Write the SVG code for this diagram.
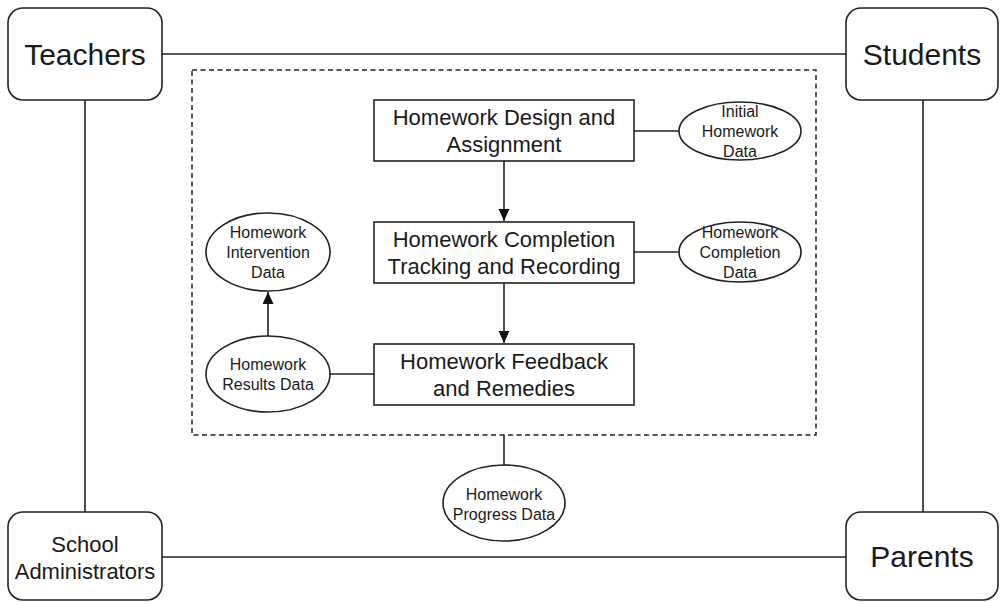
<svg xmlns="http://www.w3.org/2000/svg" width="1003" height="602" viewBox="0 0 1003 602">
<style>
.ent{fill:#fff;stroke:#222;stroke-width:1.6}
.proc{fill:#fff;stroke:#222;stroke-width:1.6}
.data{fill:#fff;stroke:#222;stroke-width:1.6}
.ln{fill:none;stroke:#222;stroke-width:1.6}
.dash{fill:none;stroke:#222;stroke-width:1.5;stroke-dasharray:5 3.5}
text{font-family:"Liberation Sans",Arial,sans-serif;fill:#1a1a1a;text-anchor:middle}
.big{font-size:30px}
.mid{font-size:22px}
.sm{font-size:16px}
</style>
<defs>
<marker id="arr" markerWidth="14" markerHeight="14" refX="12" refY="5.5" orient="auto" markerUnits="userSpaceOnUse">
<path d="M0,0 L12,5.5 L0,11 Z" fill="#111"/>
</marker>
</defs>
<g id="connectors">
<line class="ln" x1="162" y1="54" x2="846" y2="54"/>
<line class="ln" x1="85" y1="100" x2="85" y2="512"/>
<line class="ln" x1="923" y1="100" x2="923" y2="512"/>
<line class="ln" x1="162" y1="557" x2="846" y2="557"/>
<line class="ln" x1="504" y1="161" x2="504" y2="221" marker-end="url(#arr)"/>
<line class="ln" x1="504" y1="283" x2="504" y2="343" marker-end="url(#arr)"/>
<line class="ln" x1="634" y1="131" x2="679" y2="131"/>
<line class="ln" x1="634" y1="252" x2="679" y2="252"/>
<line class="ln" x1="329" y1="374" x2="374" y2="374"/>
<line class="ln" x1="268" y1="336" x2="268" y2="292" marker-end="url(#arr)"/>
<line class="ln" x1="504" y1="435" x2="504" y2="465"/>
</g>
<g id="boundary">
<rect class="dash" x="192" y="70" width="624" height="365"/>
</g>
<g id="teachers">
<rect class="ent" x="8" y="8" width="154" height="92" rx="15"/>
<text class="big" x="85" y="65">Teachers</text>
</g>
<g id="students">
<rect class="ent" x="846" y="8" width="152" height="92" rx="15"/>
<text class="big" x="922" y="65">Students</text>
</g>
<g id="school-administrators">
<rect class="ent" x="8" y="512" width="154" height="88" rx="15"/>
<text class="mid" x="85" y="552">School</text>
<text class="mid" x="85" y="579">Administrators</text>
</g>
<g id="parents">
<rect class="ent" x="846" y="512" width="152" height="88" rx="15"/>
<text class="big" x="922" y="567">Parents</text>
</g>
<g id="design">
<rect class="proc" x="374" y="100" width="260" height="61"/>
<text class="mid" x="504" y="125">Homework Design and</text>
<text class="mid" x="504" y="152">Assignment</text>
</g>
<g id="completion">
<rect class="proc" x="374" y="222" width="260" height="61"/>
<text class="mid" x="504" y="247">Homework Completion</text>
<text class="mid" x="504" y="274">Tracking and Recording</text>
</g>
<g id="feedback">
<rect class="proc" x="374" y="344" width="260" height="61"/>
<text class="mid" x="504" y="369">Homework Feedback</text>
<text class="mid" x="504" y="396">and Remedies</text>
</g>
<g id="initial-data">
<ellipse class="data" cx="740" cy="131" rx="61" ry="29"/>
<text class="sm" x="740" y="117">Initial</text>
<text class="sm" x="740" y="137">Homework</text>
<text class="sm" x="740" y="157">Data</text>
</g>
<g id="completion-data">
<ellipse class="data" cx="740" cy="252" rx="61" ry="30"/>
<text class="sm" x="740" y="238">Homework</text>
<text class="sm" x="740" y="258">Completion</text>
<text class="sm" x="740" y="278">Data</text>
</g>
<g id="intervention-data">
<ellipse class="data" cx="268" cy="252" rx="62" ry="39"/>
<text class="sm" x="268" y="238">Homework</text>
<text class="sm" x="268" y="258">Intervention</text>
<text class="sm" x="268" y="278">Data</text>
</g>
<g id="results-data">
<ellipse class="data" cx="268" cy="374" rx="62" ry="38"/>
<text class="sm" x="268" y="370">Homework</text>
<text class="sm" x="268" y="390">Results Data</text>
</g>
<g id="progress-data">
<ellipse class="data" cx="504" cy="503" rx="61" ry="38"/>
<text class="sm" x="504" y="500">Homework</text>
<text class="sm" x="504" y="520">Progress Data</text>
</g>
</svg>
